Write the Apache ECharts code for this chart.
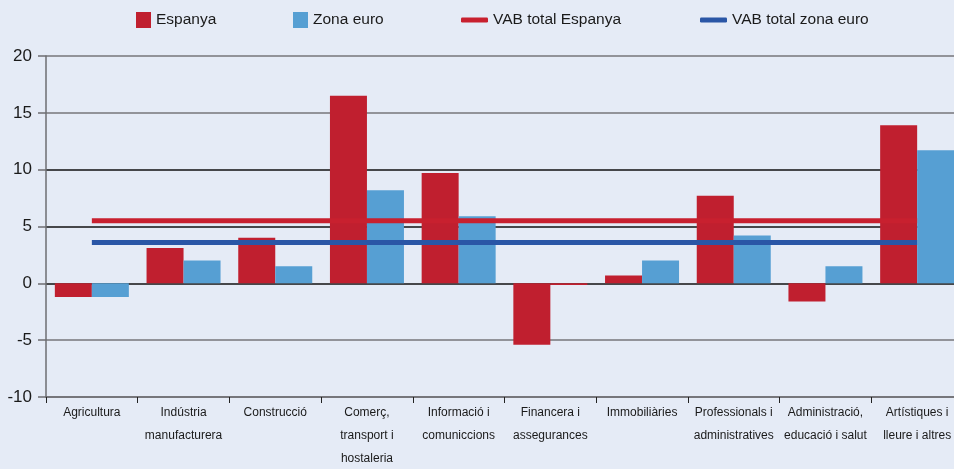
<!DOCTYPE html>
<html>
<head>
<meta charset="utf-8">
<script src="https://cdn.jsdelivr.net/npm/echarts@6/dist/echarts.min.js"></script>
<style>
html,body{margin:0;padding:0;background:#e5ebf6;}
#c{width:954px;height:469px;}
</style>
</head>
<body>
<div id="c"></div>
<script>
var categories = ['Agricultura','Indústria\nmanufacturera','Construcció','Comerç,\ntransport i\nhostaleria','Informació i\ncomuniccions','Financera i\nassegurances','Immobiliàries','Professionals i\nadministratives','Administració,\neducació i salut','Artístiques i\nlleure i altres'];
var espanya = [-1.2, 3.1, 4.0, 16.5, 9.7, -5.4, 0.7, 7.7, -1.6, 13.9];
var zonaEuro = [-1.2, 2.0, 1.5, 8.2, 5.9, -0.15, 2.0, 4.2, 1.5, 11.7];
var vabEspanya = [5.5, 5.5, 5.5, 5.5, 5.5, 5.5, 5.5, 5.5, 5.5, 5.5];
var vabZonaEuro = [3.6, 3.6, 3.6, 3.6, 3.6, 3.6, 3.6, 3.6, 3.6, 3.6];
var yTicks = {min: -10, max: 20, interval: 5};

var RED = '#c01f2f', BLUE = '#569fd3', LRED = '#c8202f', LBLUE = '#2a56a6';
var SANS = '"Liberation Sans", Arial, sans-serif';
var legendText = {fontFamily: SANS, fontSize: 15.5, color: '#1a1a1a', lineHeight: 16};

// In the reference, the tiny Financera zona-euro bar is drawn in red
var zonaEuroData = zonaEuro.map(function (v, i) {
  return i === 5 ? {value: v, itemStyle: {color: RED}} : v;
});

var chart = echarts.init(document.getElementById('c'));
chart.setOption({
  backgroundColor: '#e5ebf6',
  animation: false,
  legend: [
    {data: ['Espanya'], left: 136, top: 12, padding: 0, itemWidth: 15, itemHeight: 16, icon: 'rect', itemGap: 6, textStyle: legendText},
    {data: ['Zona euro'], left: 293, top: 12, padding: 0, itemWidth: 15, itemHeight: 16, icon: 'rect', itemGap: 6, textStyle: legendText},
    {data: ['VAB total Espanya'], left: 461, top: 12, padding: 0, itemWidth: 27, itemHeight: 5, icon: 'roundRect', itemGap: 8, textStyle: legendText},
    {data: ['VAB total zona euro'], left: 700, top: 12, padding: 0, itemWidth: 27, itemHeight: 5, icon: 'roundRect', itemGap: 10, textStyle: legendText}
  ],
  grid: {left: 46, width: 917, top: 56, bottom: 72, containLabel: false, outerBoundsMode: 'none'},
  xAxis: {
    type: 'category',
    data: categories,
    boundaryGap: true,
    axisLine: {onZero: false, lineStyle: {color: '#6d6e72', width: 1.5}},
    axisTick: {show: true, length: 6, lineStyle: {color: '#222', width: 1}},
    axisLabel: {interval: 0, margin: 4, fontFamily: SANS, fontSize: 12, lineHeight: 23, color: '#1a1a1a'}
  },
  yAxis: {
    type: 'value',
    min: yTicks.min, max: yTicks.max, interval: yTicks.interval,
    axisLine: {show: true, lineStyle: {color: '#6d6e72', width: 1.5}},
    axisTick: {show: true, length: 8, lineStyle: {color: '#6d6e72', width: 1.5}},
    axisLabel: {margin: 14, fontFamily: SANS, fontSize: 17, color: '#1a1a1a'},
    splitLine: {show: true, lineStyle: {color: ['#76767a','#76767a','#111','#111','#111','#76767a','#76767a'], width: 1.5}}
  },
  series: [
    {name: 'Espanya', type: 'bar', data: espanya, barWidth: 37, barGap: '0%', itemStyle: {color: RED}, z: 2},
    {name: 'Zona euro', type: 'bar', data: zonaEuroData, barWidth: 37, barGap: '0%', itemStyle: {color: BLUE}, z: 2},
    {name: 'VAB total Espanya', type: 'line', data: vabEspanya, showSymbol: false, symbol: 'none', lineStyle: {color: LRED, width: 5}, itemStyle: {color: LRED}, z: 5},
    {name: 'VAB total zona euro', type: 'line', data: vabZonaEuro, showSymbol: false, symbol: 'none', lineStyle: {color: LBLUE, width: 5}, itemStyle: {color: LBLUE}, z: 6}
  ]
});
</script>
</body>
</html>
